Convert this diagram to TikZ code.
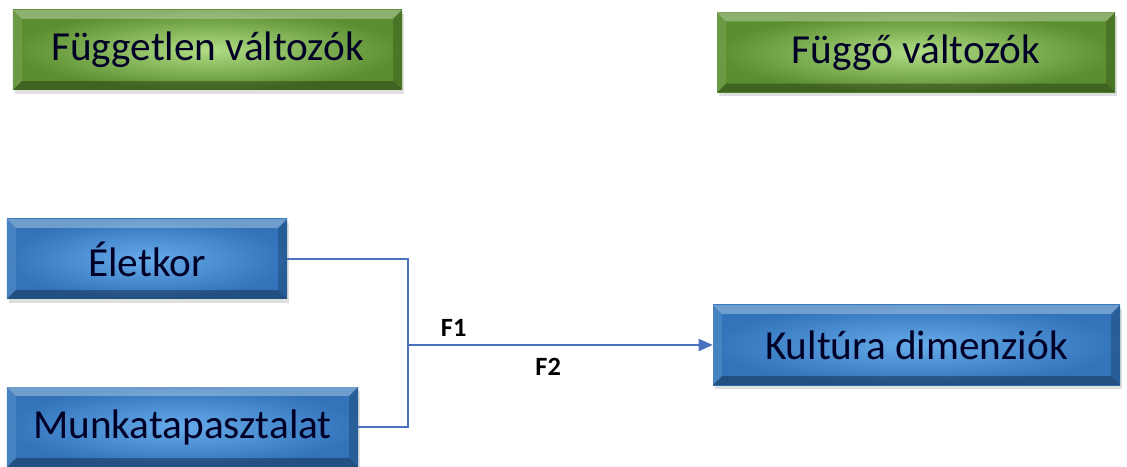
\documentclass[tikz,border=0pt]{standalone}
\usepackage{fontspec}
\setmainfont{Carlito}
\usetikzlibrary{arrows.meta,shadows}
\definecolor{grnedge}{HTML}{5B8E2F}
\definecolor{grnmid}{HTML}{B0DC84}
\definecolor{bluedge}{HTML}{3273BA}
\definecolor{blumid}{HTML}{66ABEA}
\definecolor{linkblue}{HTML}{4A72C0}
\tikzset{
  bevel/.style={path picture={
      \fill[white,opacity=.3] (path picture bounding box.north west) -- (path picture bounding box.north east)
        -- ([xshift=-5pt,yshift=-5pt]path picture bounding box.north east) -- ([xshift=5pt,yshift=-5pt]path picture bounding box.north west) -- cycle;
      \fill[black,opacity=.3] (path picture bounding box.south west) -- (path picture bounding box.south east)
        -- ([xshift=-5pt,yshift=5pt]path picture bounding box.south east) -- ([xshift=5pt,yshift=5pt]path picture bounding box.south west) -- cycle;
      \fill[black,opacity=.18] (path picture bounding box.south east) -- (path picture bounding box.north east)
        -- ([xshift=-5pt,yshift=-5pt]path picture bounding box.north east) -- ([xshift=-5pt,yshift=5pt]path picture bounding box.south east) -- cycle;
      \fill[white,opacity=.1] (path picture bounding box.south west) -- (path picture bounding box.north west)
        -- ([xshift=5pt,yshift=-5pt]path picture bounding box.north west) -- ([xshift=5pt,yshift=5pt]path picture bounding box.south west) -- cycle;
  }},
  varbox/.style={rectangle, minimum height=1.6cm, inner sep=0pt, bevel,
    font=\fontsize{23.5}{28}\selectfont, text=black!85!blue,
    drop shadow={shadow xshift=1pt, shadow yshift=-2pt, opacity=.25}},
  group/.style={varbox, inner color=grnmid, outer color=grnedge},
  item/.style={varbox, inner color=blumid, outer color=bluedge},
  link/.style={draw=linkblue, line width=.6pt},
  flabel/.style={font=\fontsize{15}{17}\selectfont\bfseries}
}

\begin{document}
\begin{tikzpicture}
  \useasboundingbox (0,0) rectangle (22.54,9.32);
  % headings
  \node [group, minimum width=7.78cm] (indep) at (4.15,8.32) {Független változók};
  \node [group, minimum width=7.96cm] (dep) at (18.32,8.27) {Függő változók};
  % variables
  \node [item, minimum width=5.6cm] (age) at (2.94,4.14) {Életkor};
  \node [item, minimum width=7.02cm] (work) at (3.65,0.78) {Munkatapasztalat};
  \node [item, minimum width=8.14cm] (culture) at (18.33,2.42) {Kultúra dimenziók};
  % connectors
  \coordinate (split) at (8.16,2.42);
  \draw [link] (age.east) -| (split);
  \draw [link] (work.east) -| (split);
  \draw [link, -{Triangle[length=8pt,width=7pt]}] (split) -- (culture.west)
    node [flabel, pos=.15, above=1pt] {F1}
    node [flabel, pos=.46, below=4pt] {F2};
\end{tikzpicture}
\end{document}
